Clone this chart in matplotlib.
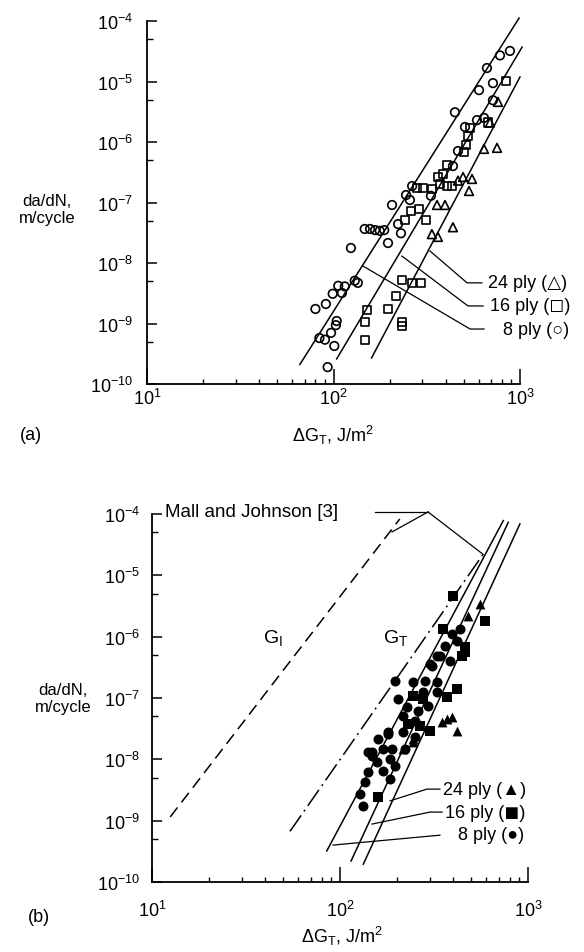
import numpy as np
import matplotlib
matplotlib.use("Agg")
import matplotlib.pyplot as plt
from matplotlib.ticker import LogLocator, NullFormatter, FixedLocator

# Data (da/dN in m/cycle vs dG_T in J/m^2)

# (a) open symbols
a8_x = [883, 781, 665, 716, 603, 716, 448, 641, 588, 507, 465, 437, 333, 264, 245, 257, 206, 222, 230, 147,
        157, 167, 177, 187, 196, 124, 130, 135, 106, 115, 99, 111, 91, 80, 104, 103, 97, 84, 90, 101, 93]
a8_y = [3.2e-5, 2.7e-5, 1.67e-5, 9.4e-6, 7.2e-6, 4.9e-6, 3.1e-6, 2.5e-6, 2.3e-6, 1.77e-6,
        7.1e-7, 4.0e-7, 1.29e-7, 1.87e-7, 1.33e-7, 1.1e-7, 9.1e-8, 4.4e-8, 3.1e-8, 3.65e-8,
        3.65e-8, 3.5e-8, 3.4e-8, 3.5e-8, 2.14e-8, 1.77e-8, 5.1e-9, 4.7e-9, 4.2e-9, 4.1e-9,
        3.1e-9, 3.2e-9, 2.1e-9, 1.74e-9, 1.1e-9, 9.4e-10, 7.0e-10, 5.75e-10, 5.4e-10, 4.25e-10, 1.9e-10]

a16_x = [841, 673, 540, 526, 513, 501, 406, 386, 363, 372, 406, 432, 280, 302, 337, 261, 287, 242, 313,
         233, 264, 294, 216, 196, 233, 233, 151, 147, 147]
a16_y = [1.02e-5, 2.1e-6, 1.7e-6, 1.26e-6, 8.9e-7, 6.8e-7, 4.2e-7, 2.96e-7, 2.64e-7, 2.0e-7,
         1.87e-7, 1.87e-7, 1.74e-7, 1.74e-7, 1.67e-7, 7.2e-8, 7.8e-8, 5.1e-8, 5.1e-8,
         5.2e-9, 4.7e-9, 4.7e-9, 2.85e-9, 1.74e-9, 1.07e-9, 9.1e-10, 1.7e-9, 1.07e-9, 5.4e-10]

a24_x = [762, 690, 641, 753, 495, 553, 533, 465, 359, 396, 437, 337, 363]
a24_y = [4.6e-6, 2.1e-6, 7.7e-7, 8.0e-7, 2.64e-7, 2.45e-7, 1.55e-7, 2.3e-7, 9.1e-8, 9.1e-8, 3.9e-8, 3.0e-8, 2.7e-8]

# (a) fitted lines (end points)
a_fit8_x, a_fit8_y = [66, 989], [2.1e-10, 1.12e-4]
a_fit16_x, a_fit16_y = [104, 1026], [2.6e-10, 3.7e-5]
a_fit24_x, a_fit24_y = [160, 1000], [2.7e-10, 1.19e-5]

# (b) filled symbols
b8_x = [393, 435, 362, 418, 327, 385, 301, 308, 196, 245, 283, 327, 276, 327, 204, 227, 260, 294, 216, 251,
        180, 159, 216, 251, 148, 188, 222, 157, 185, 180, 141, 148, 169, 141, 136, 169, 196, 128, 132, 185, 340]
b8_y = [1.1e-6, 1.33e-6, 7.1e-7, 8.6e-7, 4.9e-7, 4.05e-7, 3.57e-7, 3.35e-7, 1.87e-7, 1.82e-7,
        1.91e-7, 1.82e-7, 1.25e-7, 1.25e-7, 9.6e-8, 7.1e-8, 6.2e-8, 7.5e-8, 5.1e-8, 4.25e-8,
        2.8e-8, 2.14e-8, 2.8e-8, 2.3e-8, 1.31e-8, 1.47e-8, 1.47e-8, 9.0e-9, 1.0e-8, 2.6e-8,
        1.31e-8, 1.14e-8, 1.47e-8, 6.2e-9, 4.25e-9, 6.5e-9, 7.8e-9, 2.7e-9, 1.74e-9, 4.75e-9, 4.9e-7]

b16_x = [399, 590, 353, 462, 444, 462, 418, 245, 276, 370, 230, 267, 301, 159]
b16_y = [4.65e-6, 1.82e-6, 1.33e-6, 6.8e-7, 4.9e-7, 5.6e-7, 1.4e-7, 1.09e-7, 9.6e-8, 1.03e-7,
         3.75e-8, 3.5e-8, 2.9e-8, 2.4e-9]

b24_x = [556, 480, 348, 370, 393, 418, 245, 216, 245]
b24_y = [3.4e-6, 2.19e-6, 4.05e-8, 4.5e-8, 4.9e-8, 2.9e-8, 2.14e-8, 1.47e-8, 1.91e-8]

# (b) fitted lines and Mall and Johnson lines
b_fit8_x, b_fit8_y = [85, 739], [3.2e-10, 7.8e-5]
b_fit16_x, b_fit16_y = [114.5, 785], [2.2e-10, 7.3e-5]
b_fit24_x, b_fit24_y = [133, 906], [1.95e-10, 6.9e-5]
mj_GI_x, mj_GI_y = [12.5, 208], [1.15e-9, 8.3e-5]
mj_GT_x, mj_GT_y = [54.2, 577], [6.7e-10, 2.2e-5]

y_ticks = [1e-10, 1e-9, 1e-8, 1e-7, 1e-6, 1e-5, 1e-4]
y_labels = [r'$10^{-10}$', r'$10^{-9}$', r'$10^{-8}$', r'$10^{-7}$', r'$10^{-6}$', r'$10^{-5}$', r'$10^{-4}$']
x_ticks = [10, 100, 1000]
x_labels = [r'$10^{1}$', r'$10^{2}$', r'$10^{3}$']

plt.rcParams['font.family'] = ['Liberation Sans', 'DejaVu Sans']
plt.rcParams['mathtext.fontset'] = 'custom'
plt.rcParams['mathtext.rm'] = 'Liberation Sans'
plt.rcParams['mathtext.it'] = 'Liberation Sans:italic'
plt.rcParams['mathtext.bf'] = 'Liberation Sans:bold'
plt.rcParams['lines.scale_dashes'] = False

fig = plt.figure(figsize=(5.84, 9.53), dpi=100)
ax1 = fig.add_axes([147 / 584, 1 - 385 / 953, 373 / 584, 363 / 953])
ax2 = fig.add_axes([152 / 584, 1 - 883 / 953, 376 / 584, 368 / 953])


def setup_axis(ax, xpad, ypad):
    ax.set_xscale('log')
    ax.set_yscale('log')
    ax.set_xlim(10, 1000)
    ax.set_ylim(1e-10, 1e-4)
    for s in ['top', 'right']:
        ax.spines[s].set_visible(False)
    for s in ['left', 'bottom']:
        ax.spines[s].set_linewidth(1.3)
    ax.xaxis.set_major_locator(FixedLocator(x_ticks))
    ax.set_xticklabels(x_labels)
    ax.xaxis.set_minor_locator(LogLocator(base=10, subs=range(2, 10), numticks=20))
    ax.xaxis.set_minor_formatter(NullFormatter())
    ax.yaxis.set_major_locator(FixedLocator(y_ticks))
    ax.set_yticklabels(y_labels)
    ax.yaxis.set_minor_locator(LogLocator(base=10, subs=(5.0,), numticks=20))
    ax.yaxis.set_minor_formatter(NullFormatter())
    ax.tick_params(axis='x', which='major', direction='in', length=11, width=1.1, pad=xpad, labelsize=13)
    ax.tick_params(axis='x', which='minor', direction='in', length=3.6, width=1.0)
    ax.tick_params(axis='y', which='major', direction='in', length=7.2, width=1.1, pad=ypad, labelsize=13)
    ax.tick_params(axis='y', which='minor', direction='in', length=4.3, width=1.0)


setup_axis(ax1, 3, 10)
setup_axis(ax2, 13, 8.5)

lw = 1.1

# (a) open symbols
ax1.scatter(a8_x, a8_y, s=38, marker='o', facecolors='none', edgecolors='black', linewidths=1.2, clip_on=False, zorder=3)
ax1.scatter(a16_x, a16_y, s=34, marker='s', facecolors='none', edgecolors='black', linewidths=1.2, clip_on=False, zorder=3)
ax1.scatter(a24_x, a24_y, s=40, marker='^', facecolors='none', edgecolors='black', linewidths=1.2, clip_on=False, zorder=3)

for fx, fy in [(a_fit8_x, a_fit8_y), (a_fit16_x, a_fit16_y), (a_fit24_x, a_fit24_y)]:
    ax1.plot(fx, fy, color='black', lw=lw, clip_on=False)

# leader lines (a)
ax1.plot([329, 520, 625], [1.58e-8, 4.7e-9, 4.7e-9], color='black', lw=0.9, clip_on=False)
ax1.plot([233, 526, 634], [1.3e-8, 1.95e-9, 1.95e-9], color='black', lw=0.9, clip_on=False)
ax1.plot([144, 540, 641], [8.9e-9, 8.1e-10, 8.1e-10], color='black', lw=0.9, clip_on=False)
ax1.text(673, 4.7e-9, '24 ply (\u25b3)', fontsize=13, va='center', ha='left')
ax1.text(690, 1.95e-9, '16 ply (\u25fb)', fontsize=13, va='center', ha='left')
ax1.text(811, 8.1e-10, '8 ply (\u25cb)', fontsize=13, va='center', ha='left')

# (b) filled symbols
ax2.scatter(b8_x, b8_y, s=52, marker='o', color='black', linewidths=0, clip_on=False, zorder=3)
ax2.scatter(b16_x, b16_y, s=44, marker='s', color='black', linewidths=0, clip_on=False, zorder=3)
ax2.scatter(b24_x, b24_y, s=50, marker='^', color='black', linewidths=0, clip_on=False, zorder=3)

for fx, fy in [(b_fit8_x, b_fit8_y), (b_fit16_x, b_fit16_y), (b_fit24_x, b_fit24_y)]:
    ax2.plot(fx, fy, color='black', lw=lw, clip_on=False)

ax2.plot(mj_GI_x, mj_GI_y, color='black', lw=lw, linestyle=(0, (8.6, 4.7)), clip_on=False)
ax2.plot(mj_GT_x, mj_GT_y, color='black', lw=lw, linestyle=(0, (14, 3.5, 1.4, 3.5)), clip_on=False)

# Mall and Johnson label
ax2.text(11.7, 1.08e-4, 'Mall and Johnson [3]', fontsize=13.5, va='center', ha='left')
ax2.plot([153.5, 294], [1.08e-4, 1.08e-4], color='black', lw=0.9, clip_on=False)
ax2.plot([294, 189], [1.08e-4, 5.1e-5], color='black', lw=0.9, clip_on=False)
ax2.plot([294, 577], [1.08e-4, 2.2e-5], color='black', lw=0.9, clip_on=False)
ax2.text(38.9, 1.0e-6, r'G$_\mathrm{I}$', fontsize=14, va='center', ha='left')
ax2.text(169.4, 1.0e-6, r'G$_\mathrm{T}$', fontsize=14, va='center', ha='left')

# leader lines (b)
ax2.plot([184.5, 290, 340], [2.1e-9, 3.27e-9, 3.27e-9], color='black', lw=0.9, clip_on=False)
ax2.plot([148, 301, 349], [8.8e-10, 1.38e-9, 1.38e-9], color='black', lw=0.9, clip_on=False)
ax2.plot([91.8, 340], [4.0e-10, 5.8e-10], color='black', lw=0.9, clip_on=False)
ax2.text(353, 3.27e-9, '24 ply (\u25b2)', fontsize=13, va='center', ha='left')
ax2.text(362, 1.38e-9, '16 ply (\u25fc)', fontsize=13, va='center', ha='left')
ax2.text(425, 6.0e-10, '8 ply (\u25cf)', fontsize=13, va='center', ha='left')

# axis labels and panel tags
fig.text(47 / 584, 1 - 210 / 953, 'da/dN,\nm/cycle', fontsize=12, ha='center', va='center', linespacing=1.1)
fig.text(63 / 584, 1 - 699 / 953, 'da/dN,\nm/cycle', fontsize=12, ha='center', va='center', linespacing=1.1)
fig.text(333 / 584, 1 - 435 / 953, r'$\Delta$G$_\mathrm{T}$, J/m$^2$', fontsize=13, ha='center', va='center')
fig.text(342 / 584, 1 - 936 / 953, r'$\Delta$G$_\mathrm{T}$, J/m$^2$', fontsize=13, ha='center', va='center')
fig.text(31 / 584, 1 - 436 / 953, '(a)', fontsize=13, ha='center', va='center')
fig.text(39 / 584, 1 - 918 / 953, '(b)', fontsize=13, ha='center', va='center')

fig.savefig('out.png', dpi=100)
